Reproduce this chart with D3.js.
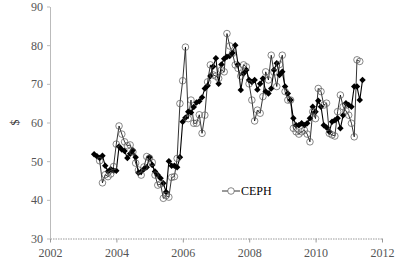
<!DOCTYPE html>
<html>
<head>
<meta charset="utf-8">
<script src="https://cdn.jsdelivr.net/npm/d3@7"></script>
<style>
  body { margin: 0; background: #fff; }
  svg { display: block; }
  text { font-family: "Liberation Serif", "DejaVu Serif", serif; }
</style>
</head>
<body>
<div id="main-content"></div>
<script>
// monthly series, both starting at the same month
const startYear = 2003.33;

const priceSeries = [51.8, 51.3, 50.8, 51.4, 48.8, 47.3, 47.9, 47.6, 47.5, 53.8,
  53.0, 52.6, 50.8, 51.9, 52.8, 51.0, 47.0, 47.3, 48.0, 48.4,
  51.0, 49.0, 47.3, 46.4, 45.6, 44.3, 42.0, 50.0, 48.8, 48.8,
  48.4, 51.0, 60.2, 61.2, 62.8, 62.6, 64.0, 65.2, 65.5, 66.5,
  68.8, 69.5, 72.0, 74.5, 76.6, 70.0, 75.0, 76.5, 77.0, 77.2,
  78.0, 80.0, 75.0, 68.4, 72.7, 73.6, 71.0, 70.5, 71.0, 68.5,
  70.0, 71.4, 68.0, 67.5, 68.8, 73.6, 75.3, 72.3, 73.1, 69.3,
  67.5, 65.8, 61.1, 59.3, 59.3, 59.8, 59.3, 59.8, 61.1, 64.1,
  62.8, 65.6, 64.1, 59.3, 58.7, 57.6, 60.2, 60.6, 61.1, 58.5,
  61.9, 65.0, 64.5, 64.1, 69.3, 69.3, 65.8, 71.0];

// CEPH starts two months later
const cephOffset = 2;
const cephSeries = [50.1, 44.4, 46.5, 46.0, 46.7, 48.6, 54.4, 59.1,
  57.0, 55.0, 54.0, 54.2, 52.4, 49.5, 47.7, 46.4, 48.5, 51.2,
  50.8, 49.7, 46.4, 43.8, 44.1, 40.4, 41.1, 40.7, 45.8, 46.0,
  50.7, 64.9, 70.8, 79.5, 61.0, 65.8, 59.8, 59.8, 62.0, 57.2,
  61.9, 70.5, 74.9, 72.3, 72.0, 71.4, 73.6, 73.1, 83.0, 79.8,
  77.9, 74.9, 74.0, 72.0, 74.9, 74.4, 70.0, 65.8, 60.4, 63.2,
  62.4, 66.7, 73.1, 71.0, 77.4, 73.0, 69.3, 75.0, 77.4, 68.0,
  65.8, 65.8, 58.5, 57.6, 57.0, 57.6, 58.0, 57.0, 55.0, 62.8,
  61.0, 68.8, 68.0, 64.5, 65.0, 57.2, 56.8, 56.5, 62.8, 67.1,
  64.1, 63.0, 61.9, 59.8, 56.3, 76.2, 75.8];

const xTicks = [2002, 2004, 2006, 2008, 2010, 2012];
const yTicks = [30, 40, 50, 60, 70, 80, 90];

const width = 400, height = 268;
const margin = {top: 6.5, right: 18, bottom: 29.5, left: 50};

const svg = d3.select("#main-content")
  .append("svg")
  .attr("width", width)
  .attr("height", height);

const x = d3.scaleLinear().domain([2002, 2012]).range([margin.left, 382]);
const y = d3.scaleLinear().domain([30, 90]).range([height - margin.bottom, margin.top]);

// axes
const xAxis = svg.append("g")
  .attr("transform", `translate(0,${y(30)})`)
  .call(d3.axisBottom(x).tickValues(xTicks).tickFormat(d3.format("d")).tickSize(4).tickSizeOuter(0));
xAxis.attr("font-family", null);
xAxis.select(".domain").attr("stroke", "#999").attr("stroke-dasharray", "1.5,1");
xAxis.selectAll(".tick line").attr("stroke", "#999");
xAxis.selectAll("text").attr("fill", "#555").attr("font-size", 12).attr("dy", "0.95em");

const yAxis = svg.append("g")
  .attr("transform", `translate(${x(2002)},0)`)
  .call(d3.axisLeft(y).tickValues(yTicks).tickSize(3).tickSizeOuter(0));
yAxis.attr("font-family", null);
yAxis.select(".domain").attr("stroke", "#bbb");
yAxis.selectAll(".tick line").attr("stroke", "#bbb");
yAxis.selectAll("text").attr("fill", "#555").attr("font-size", 12).attr("x", -7);

svg.append("text")
  .attr("transform", `translate(19,${y(60)}) rotate(-90)`)
  .attr("text-anchor", "middle")
  .attr("font-size", 12)
  .attr("fill", "#333")
  .text("$");

const priceData = priceSeries.map((v, i) => ({t: startYear + i / 12, v}));
const cephData = cephSeries.map((v, i) => ({t: startYear + (i + cephOffset) / 12, v}));

const line = d3.line().x(d => x(d.t)).y(d => y(d.v));

// filled diamond series
svg.append("path")
  .datum(priceData)
  .attr("fill", "none")
  .attr("stroke", "#000")
  .attr("stroke-width", 1.1)
  .attr("d", line);

svg.append("g")
  .selectAll("path")
  .data(priceData)
  .join("path")
  .attr("d", d3.symbol(d3.symbolSquare, 21))
  .attr("transform", d => `translate(${x(d.t)},${y(d.v)}) rotate(45)`)
  .attr("fill", "#000");

// CEPH, open circles
svg.append("path")
  .datum(cephData)
  .attr("fill", "none")
  .attr("stroke", "#000")
  .attr("stroke-width", 0.8)
  .attr("d", line);

svg.append("g")
  .selectAll("circle")
  .data(cephData)
  .join("circle")
  .attr("cx", d => x(d.t))
  .attr("cy", d => y(d.v))
  .attr("r", 3.3)
  .attr("fill", "none")
  .attr("stroke", "#555")
  .attr("stroke-width", 0.7);

// legend
const lg = svg.append("g").attr("transform", "translate(222,191)");
lg.append("line").attr("x1", 0).attr("x2", 18).attr("stroke", "#000").attr("stroke-width", 0.8);
lg.append("circle").attr("cx", 9).attr("r", 3.3).attr("fill", "#fff").attr("stroke", "#555").attr("stroke-width", 0.7);
lg.append("text")
  .attr("x", 19).attr("dy", "0.35em")
  .attr("font-size", 12).attr("fill", "#000")
  .text("CEPH");
</script>
</body>
</html>
